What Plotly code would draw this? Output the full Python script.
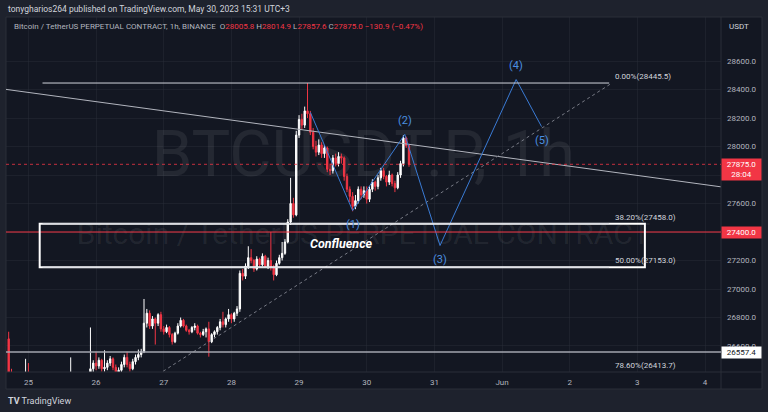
import pandas as pd
import plotly.graph_objects as go

# ---------------- data (BTCUSDT.P 1h, from 2023-05-24 17:00) ----------------
first_open = 26650.0
closes = [
    # May 24 17-23
    26390, 26330, 26290, 26280, 26320, 26350, 26410,
    # May 25
    26380, 26320, 26290, 26240, 26200, 26230, 26170, 26120, 26060, 26000, 25960, 26050,
    26110, 26170, 26250, 26310, 26270, 26200, 26250, 26300, 26330, 26360, 26440, 26480,
    # May 26
    26460, 26500, 26440, 26450, 26480, 26510, 26450, 26400, 26430, 26470, 26520, 26470,
    26440, 26490, 26520, 26540, 26560, 26760, 26830, 26740, 26790, 26760, 26820, 26720,
    # May 27
    26700, 26730, 26680, 26630, 26690, 26740, 26780, 26740, 26710, 26700, 26730, 26740,
    26690, 26680, 26700, 26720, 26630, 26680, 26700, 26730, 26770, 26750, 26790, 26820,
    # May 28
    26790, 26830, 26860, 27110, 27090, 27160, 27220, 27200, 27140, 27210, 27170, 27230,
    27160, 27200, 27150, 27100, 27180, 27220, 27250, 27330, 27470, 27600, 27520, 28080,
    # May 29
    28190, 28150, 28250, 28230, 28100, 28000, 27960, 28010, 27950, 27990, 27840, 27830,
    27920, 27880, 27930, 27920, 27790, 27700, 27650, 27580, 27620, 27700, 27660, 27690,
    # May 30 0-15
    27630, 27700, 27750, 27720, 27780, 27830, 27790, 27750, 27800, 27740, 27710, 27800,
    27880, 28060, 28005.8, 27875.0,
]
highs = [
    26700, 26440, 26360, 26320, 26340, 26380, 26510,
    26480, 26400, 26340, 26310, 26270, 26260, 26250, 26200, 26150, 26090, 26060, 26080,
    26140, 26200, 26280, 26520, 26340, 26290, 26270, 26320, 26350, 26380, 26730, 26500,
    26560, 26520, 26510, 26570, 26500, 26530, 26520, 26470, 26450, 26490, 26540, 26560,
    26490, 26510, 26540, 26575, 26580, 26930, 26860, 26850, 26810, 26800, 26830, 26840,
    26740, 26750, 26740, 26690, 26700, 26760, 26800, 26790, 26750, 26720, 26740, 26760,
    26750, 26700, 26720, 26730, 26770, 26690, 26710, 26740, 26790, 26840, 26800, 26860,
    26830, 26840, 26880, 27130, 27140, 27180, 27300, 27280, 27210, 27230, 27220, 27250,
    27240, 27220, 27400, 27170, 27200, 27240, 27330, 27350, 27490, 27780, 27640, 28110,
    28220, 28230, 28280, 28445.5, 28250, 28130, 28040, 28050, 28030, 28010, 28000, 27880,
    27940, 27950, 27960, 27950, 27930, 27810, 27720, 27680, 27660, 27720, 27720, 27720,
    27720, 27720, 27770, 27760, 27800, 27850, 27850, 27800, 27830, 27810, 27760, 27820,
    27900, 28080, 28070, 28014.9,
]
lows = [
    26360, 26300, 26260, 26240, 26260, 26300, 26330,
    26330, 26280, 26250, 26200, 26160, 26170, 26130, 26080, 26020, 25950, 25900, 25940,
    26020, 26090, 26150, 26230, 26240, 26170, 26180, 26230, 26280, 26300, 26340, 26410,
    26430, 26440, 26420, 26420, 26430, 26460, 26430, 26380, 26370, 26410, 26450, 26450,
    26420, 26430, 26470, 26500, 26520, 26550, 26730, 26720, 26720, 26610, 26740, 26700,
    26680, 26690, 26660, 26610, 26620, 26680, 26730, 26730, 26700, 26680, 26690, 26710,
    26680, 26660, 26670, 26660, 26525, 26620, 26660, 26680, 26710, 26730, 26730, 26770,
    26760, 26770, 26810, 26840, 27060, 27070, 27140, 27180, 27120, 27130, 27150, 27160,
    27150, 27140, 27130, 27060, 27090, 27170, 27200, 27240, 27320, 27450, 27500, 27510,
    28060, 28120, 28130, 28200, 28080, 27980, 27930, 27940, 27920, 27920, 27820, 27800,
    27810, 27860, 27860, 27880, 27760, 27680, 27610, 27545, 27560, 27600, 27630, 27640,
    27600, 27610, 27680, 27690, 27700, 27760, 27770, 27720, 27730, 27720, 27680, 27700,
    27780, 27860, 27990, 27857.6,
]
opens = [first_open] + closes[:-1]
times = pd.date_range("2023-05-24 17:00", periods=len(closes), freq="h")

# axis ticks
day_ticks = ["2023-05-25", "2023-05-26", "2023-05-27", "2023-05-28", "2023-05-29", "2023-05-30",
             "2023-05-31", "2023-06-01", "2023-06-02", "2023-06-03", "2023-06-04"]
day_labels = ["25", "26", "27", "28", "29", "30", "31", "Jun", "2", "3", "4"]
price_ticks = [26600, 26800, 27000, 27200, 27400, 27600, 27800, 28000, 28200, 28400, 28600]

# drawings
fib_levels = [28445.5, 27458.0, 27153.0, 26413.7]
fib_labels = ["0.00%(28445.5)", "38.20%(27458.0)", "50.00%(27153.0)", "78.60%(26413.7)"]
fib_start, fib_end = "2023-05-25 05:00", "2023-06-02 14:00"
box_start, box_end = "2023-05-25 04:00", "2023-06-03 02:40"
box_low, box_high = 27153.0, 27458.0
confluence_time, confluence_price = "2023-05-29 15:00", 27320
trend_times = ["2023-05-24 16:00", "2023-06-04 06:00"]
trend_prices = [28401, 27716]
rise_times = ["2023-05-26 22:00", "2023-06-02 15:00"]
rise_prices = [26400, 28445.5]
wave_times = ["2023-05-29 04:00", "2023-05-29 19:00", "2023-05-30 13:30", "2023-05-31 02:00",
              "2023-06-01 05:00", "2023-06-01 14:00"]
wave_prices = [28240, 27550, 28085, 27305, 28470, 28140]
wave_labels = ["", "(1)", "(2)", "(3)", "(4)", "(5)"]
level_red = 27400.0
level_gray = 26557.4
last_price = 27875.0
countdown = "28:04"

# ---------------- styling ----------------
W, H = 768, 412
ML, MR, MT, MB = 6, 47, 17, 40
PW, PH = W - ML - MR, H - MT - MB
def px(x):  # pixel -> paper x
    return (x - ML) / PW
def py(y):  # pixel -> paper y
    return (H - MB - y) / PH

BG = "#131722"
FRAME = "#1e222d"
BORDER = "#2a2e39"
TXT = "#b2b5be"
RED = "#f23645"
BLUE_LINE = "#3a7bd5"
BLUE_TXT = "#4b8fe0"
FONT = "Roboto"
WM = "rgba(255,255,255,0.075)"

fig = go.Figure()

# watermark on base (hidden) axes so it sits under the candles
fig.add_trace(go.Scatter(x=[0.5], y=[py(160)], mode="text", text=["BTCUSDT.P, 1h"],
                         textfont=dict(size=65, color=WM, family=FONT),
                         hoverinfo="skip", showlegend=False, xaxis="x", yaxis="y"))
fig.add_trace(go.Scatter(x=[0.5], y=[py(236)], mode="text",
                         text=["Bitcoin / TetherUS PERPETUAL CONTRACT"],
                         textfont=dict(size=30, color=WM, family=FONT),
                         hoverinfo="skip", showlegend=False, xaxis="x", yaxis="y"))

fig.add_trace(go.Candlestick(
    x=times, open=opens, high=highs, low=lows, close=closes,
    xaxis="x2", yaxis="y2", whiskerwidth=0,
    increasing=dict(line=dict(color="#ffffff", width=1), fillcolor="#ffffff"),
    decreasing=dict(line=dict(color=RED, width=1), fillcolor=RED),
    hoverinfo="skip", showlegend=False))

# trend lines
fig.add_trace(go.Scatter(x=trend_times, y=trend_prices, mode="lines",
                         line=dict(color="#b2b5be", width=1), xaxis="x2", yaxis="y2",
                         hoverinfo="skip", showlegend=False))
fig.add_trace(go.Scatter(x=rise_times, y=rise_prices, mode="lines",
                         line=dict(color="#787b86", width=1, dash="dot"), xaxis="x2", yaxis="y2",
                         hoverinfo="skip", showlegend=False))
# elliott wave
fig.add_trace(go.Scatter(x=wave_times, y=wave_prices, mode="lines",
                         line=dict(color=BLUE_LINE, width=1), xaxis="x2", yaxis="y2",
                         hoverinfo="skip", showlegend=False))

shapes = []
# chart pane frame
shapes.append(dict(type="rect", xref="paper", yref="paper", x0=px(6), x1=px(762), y0=py(389), y1=py(17),
                   fillcolor=BG, line=dict(color=BORDER, width=1), layer="below"))
shapes.append(dict(type="line", xref="paper", yref="paper", x0=1, x1=1, y0=py(389), y1=py(17),
                   line=dict(color=BORDER, width=1)))
shapes.append(dict(type="line", xref="paper", yref="paper", x0=0, x1=px(762), y0=0, y1=0,
                   line=dict(color=BORDER, width=1)))
# horizontal levels
shapes.append(dict(type="line", xref="paper", yref="y2", x0=0, x1=1, y0=level_gray, y1=level_gray,
                   line=dict(color="#a3a6af", width=1.5)))
shapes.append(dict(type="line", xref="paper", yref="y2", x0=0, x1=1, y0=level_red, y1=level_red,
                   line=dict(color=RED, width=1)))
shapes.append(dict(type="line", xref="paper", yref="y2", x0=0, x1=1, y0=last_price, y1=last_price,
                   line=dict(color="rgba(242,54,69,0.8)", width=1, dash="dot")))
# confluence box
shapes.append(dict(type="rect", xref="x2", yref="y2", x0=box_start, x1=box_end, y0=box_low, y1=box_high,
                   line=dict(color="#ffffff", width=2), fillcolor="rgba(0,0,0,0)"))
# fib lines
for lv in fib_levels:
    shapes.append(dict(type="line", xref="x2", yref="y2", x0=fib_start, x1=fib_end, y0=lv, y1=lv,
                       line=dict(color="#d1d4dc", width=1)))

ann = []
ann.append(dict(xref="paper", yref="paper", x=px(6), y=py(9), xanchor="left", yanchor="middle",
                text="tonygharios264 published on TradingView.com, May 30, 2023 15:31 UTC+3",
                showarrow=False, font=dict(size=8.5, color="#d1d4dc", family=FONT)))
r = lambda s: f"<span style='color:{RED}'>{s}</span>"
legend_txt = ("Bitcoin / TetherUS PERPETUAL CONTRACT, 1h, BINANCE  "
              f"O{r('28005.8')} H{r('28014.9')} L{r('27857.6')} C{r('27875.0')} {r('−130.9 (−0.47%)')}")
ann.append(dict(xref="paper", yref="paper", x=px(12), y=py(27), xanchor="left", yanchor="middle",
                text=legend_txt, showarrow=False, font=dict(size=8, color=TXT, family=FONT)))
ann.append(dict(xref="paper", yref="paper", x=px(727), y=py(27), xanchor="left", yanchor="middle",
                text="USDT", showarrow=False, font=dict(size=8, color="#d1d4dc", family=FONT)))
ann.append(dict(xref="paper", yref="paper", x=px(6), y=py(401), xanchor="left", yanchor="middle",
                text="<b>TV</b> TradingView", showarrow=False,
                font=dict(size=9, color="#d1d4dc", family=FONT)))

# fib labels
for lv, lb in zip(fib_levels[:3], fib_labels[:3]):
    ann.append(dict(xref="x2", yref="y2", x=fib_end, y=lv, xanchor="left", yanchor="bottom",
                    xshift=4, yshift=0, text=lb, showarrow=False,
                    font=dict(size=8, color="#d1d4dc", family=FONT)))
ann.append(dict(xref="x2", yref="paper", x=fib_end, y=0, xanchor="left", yanchor="bottom",
                xshift=4, text=fib_labels[3], showarrow=False,
                font=dict(size=8, color="#d1d4dc", family=FONT)))

# wave labels
for i, (t, p, lb) in enumerate(zip(wave_times, wave_prices, wave_labels)):
    if not lb:
        continue
    up = p > wave_prices[i - 1]
    ann.append(dict(xref="x2", yref="y2", x=t, y=p, text=lb, showarrow=False,
                    yshift=14 if up else -14, font=dict(size=11, color=BLUE_TXT, family=FONT)))

ann.append(dict(xref="x2", yref="y2", x=confluence_time, y=confluence_price,
                text="<b><i>Confluence</i></b>", showarrow=False,
                font=dict(size=12.5, color="#ffffff", family=FONT)))

# price-axis labels
ann.append(dict(xref="paper", yref="y2", x=1, y=last_price, xanchor="left", yanchor="top", yshift=6,
                text=f"{last_price:.1f}<br>{countdown}", showarrow=False, bgcolor=RED,
                width=37, borderpad=1, align="center", font=dict(size=8, color="#ffffff", family=FONT)))
ann.append(dict(xref="paper", yref="y2", x=1, y=level_red, xanchor="left", yanchor="middle",
                text=f"{level_red:.1f}", showarrow=False, bgcolor=RED,
                width=37, borderpad=1, align="center", font=dict(size=8, color="#ffffff", family=FONT)))
ann.append(dict(xref="paper", yref="y2", x=1, y=level_gray, xanchor="left", yanchor="middle",
                text=f"{level_gray:.1f}", showarrow=False, bgcolor="#ffffff",
                width=37, borderpad=1, align="center", font=dict(size=8, color=BG, family=FONT)))

GRID = "rgba(42,46,57,0.45)"
fig.update_layout(
    width=W, height=H,
    margin=dict(l=ML, r=MR, t=MT, b=MB, autoexpand=False),
    paper_bgcolor=FRAME, plot_bgcolor=BG,
    showlegend=False,
    xaxis=dict(domain=[0, 1], range=[0, 1], visible=False, fixedrange=True),
    yaxis=dict(domain=[0, 1], range=[0, 1], visible=False, fixedrange=True),
    xaxis2=dict(overlaying="x", anchor="y2", type="date",
                range=["2023-05-24 16:03", "2023-06-04 05:40"],
                tickvals=day_ticks, ticktext=day_labels, ticks="",
                showgrid=True, gridcolor=GRID, gridwidth=1, zeroline=False, showline=False,
                ticklabelstandoff=4,
                tickfont=dict(size=8, color=TXT, family=FONT),
                rangeslider=dict(visible=False)),
    yaxis2=dict(overlaying="y", anchor="x2", side="right",
                range=[26417.5, 28908.8], tickvals=price_ticks, tickformat=".1f", ticks="",
                showgrid=True, gridcolor=GRID, gridwidth=1, zeroline=False, showline=False,
                ticklabelstandoff=5,
                tickfont=dict(size=8, color=TXT, family=FONT)),
    shapes=shapes, annotations=ann,
)

fig.write_html("out.html", config={"displayModeBar": False},
               post_script="document.body.style.margin='0';")
